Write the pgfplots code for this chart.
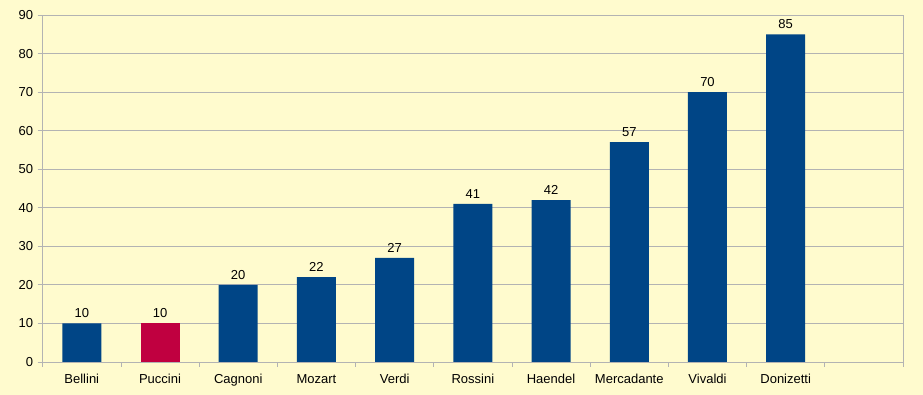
\documentclass[border=0pt]{standalone}
\usepackage{pgfplots}
\pgfplotsset{compat=1.18}
\usepackage{fontspec}
\setmainfont{Liberation Sans}
\definecolor{bg}{RGB}{255,251,206}
\definecolor{barblue}{RGB}{0,69,134}
\definecolor{barred}{RGB}{192,0,64}
\definecolor{gridgray}{RGB}{179,179,179}
\begin{document}
\begin{tikzpicture}
\fill[bg] (0,0) rectangle (923pt,395pt);
\useasboundingbox (0,0) rectangle (923pt,395pt);
\begin{axis}[
  at={(42.7pt,33pt)}, anchor=south west,
  scale only axis, width=860.3pt, height=347pt,
  ybar, bar width=39pt,
  xmin=-0.5, xmax=10.5, ymin=0, ymax=90,
  xtick={0,...,9},
  xticklabels={Bellini,Puccini,Cagnoni,Mozart,Verdi,Rossini,Haendel,Mercadante,Vivaldi,Donizetti},
  major x tick style={draw=none},
  minor xtick={-0.5,0.5,...,10.5},
  minor x tick style={gridgray, line width=0.8pt},
  ytick={0,10,...,90},
  ymajorgrids, grid style={gridgray, line width=0.8pt},
  axis line style={gridgray, line width=0.8pt},
  y tick style={gridgray, line width=0.8pt},
  tick align=outside, major tick length=5pt, minor tick length=5pt,
  xtick pos=bottom, ytick pos=left,
  /pgf/number format/assume math mode=true,
  tick label style={font=\fontsize{13}{15}\selectfont, text=black},
  xticklabel style={yshift=-4pt},
  yticklabel style={xshift=-1pt},
  nodes near coords,
  every node near coord/.append style={font=\fontsize{13}{15}\selectfont, text=black, yshift=2pt},
  axis background/.style={fill=bg},
  clip=false,
]
\addplot[fill=barblue, draw=none, bar shift=0pt] coordinates {(0,10) (2,20) (3,22) (4,27) (5,41) (6,42) (7,57) (8,70) (9,85)};
\addplot[fill=barred, draw=none, bar shift=0pt] coordinates {(1,10)};
\end{axis}
\end{tikzpicture}
\end{document}
